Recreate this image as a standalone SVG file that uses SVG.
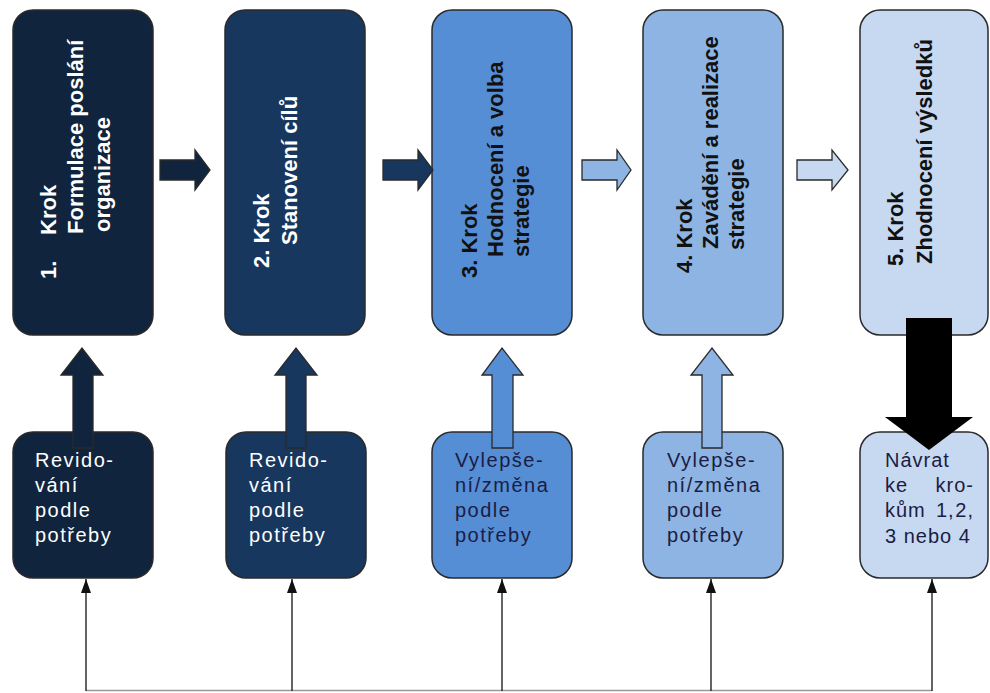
<svg xmlns="http://www.w3.org/2000/svg" width="990" height="693" viewBox="0 0 990 693">
  <style>
    .box { stroke: #2a2a2a; stroke-width: 1.5; }
    .blk { stroke: #2a2a2a; stroke-width: 1.3; stroke-linejoin: miter; }
    .vt { font-family: "Liberation Sans", Arial, sans-serif; font-weight: bold; font-size: 22px; }
    .bt { font-family: "Liberation Sans", Arial, sans-serif; font-size: 20px; letter-spacing: 1.5px; }
    .bt5 { font-family: "Liberation Sans", Arial, sans-serif; font-size: 20px; letter-spacing: 1px; }
    .wht { fill: #ffffff; }
    .drk { fill: #111111; }
    .nav { fill: #1c1c44; }
    .c1 { fill: #10243e; }
    .c2 { fill: #17375e; }
    .c3 { fill: #558ed5; }
    .c4 { fill: #8db4e2; }
    .c5 { fill: #c6d9f1; }
    .thin { stroke: #111; stroke-width: 1.3; fill: none; }
  </style>
  <defs>
    <marker id="tip" markerWidth="10" markerHeight="14" refX="5" refY="0" orient="0" markerUnits="userSpaceOnUse">
      <polygon points="0,14 5,0 10,14" fill="#111"/>
    </marker>
  </defs>

  <rect width="990" height="693" fill="#ffffff"/>

  <!-- step boxes -->
  <g id="step1">
    <rect class="box c1" x="13" y="10" width="140" height="325" rx="20"/>
    <text class="vt wht" transform="translate(56,279) rotate(-90)">1.</text>
    <text class="vt wht" transform="translate(56,235) rotate(-90)">Krok</text>
    <text class="vt wht" transform="translate(83,234) rotate(-90)">Formulace poslání</text>
    <text class="vt wht" transform="translate(110,232) rotate(-90)">organizace</text>
  </g>
  <g id="step2">
    <rect class="box c2" x="225" y="10" width="140" height="325" rx="20"/>
    <text class="vt wht" transform="translate(269,268) rotate(-90)">2. Krok</text>
    <text class="vt wht" transform="translate(297,245) rotate(-90)">Stanovení cílů</text>
  </g>
  <g id="step3">
    <rect class="box c3" x="432" y="10" width="140" height="325" rx="20"/>
    <text class="vt drk" transform="translate(477,278) rotate(-90)">3. Krok</text>
    <text class="vt drk" transform="translate(503,257) rotate(-90)">Hodnocení a volba</text>
    <text class="vt drk" transform="translate(529,257) rotate(-90)">strategie</text>
  </g>
  <g id="step4">
    <rect class="box c4" x="643" y="10" width="140" height="325" rx="20"/>
    <text class="vt drk" transform="translate(692,273) rotate(-90)">4. Krok</text>
    <text class="vt drk" transform="translate(718,249) rotate(-90)">Zavádění a realizace</text>
    <text class="vt drk" transform="translate(744,250) rotate(-90)">strategie</text>
  </g>
  <g id="step5">
    <rect class="box c5" x="860" y="10" width="128" height="325" rx="20"/>
    <text class="vt drk" transform="translate(903,266) rotate(-90)">5. Krok</text>
    <text class="vt drk" transform="translate(932,264) rotate(-90)">Zhodnocení výsledků</text>
  </g>

  <!-- review boxes -->
  <g id="review1">
    <rect class="box c1" x="13" y="432" width="140" height="146" rx="20"/>
    <text class="bt wht" x="35" y="467">Revido-</text>
    <text class="bt wht" x="35" y="492">vání</text>
    <text class="bt wht" x="35" y="517">podle</text>
    <text class="bt wht" x="35" y="542">potřeby</text>
  </g>
  <g id="review2">
    <rect class="box c2" x="226" y="432" width="140" height="146" rx="20"/>
    <text class="bt wht" x="249" y="467">Revido-</text>
    <text class="bt wht" x="249" y="492">vání</text>
    <text class="bt wht" x="249" y="517">podle</text>
    <text class="bt wht" x="249" y="542">potřeby</text>
  </g>
  <g id="review3">
    <rect class="box c3" x="432" y="432" width="140" height="146" rx="20"/>
    <text class="bt nav" x="455" y="467">Vylepše-</text>
    <text class="bt nav" x="455" y="492">ní/změna</text>
    <text class="bt nav" x="455" y="517">podle</text>
    <text class="bt nav" x="455" y="542">potřeby</text>
  </g>
  <g id="review4">
    <rect class="box c4" x="643" y="432" width="140" height="146" rx="20"/>
    <text class="bt nav" x="667" y="467">Vylepše-</text>
    <text class="bt nav" x="667" y="492">ní/změna</text>
    <text class="bt nav" x="667" y="517">podle</text>
    <text class="bt nav" x="667" y="542">potřeby</text>
  </g>
  <g id="review5">
    <rect class="box c5" x="860" y="432" width="128" height="146" rx="20"/>
    <!-- justified lines: words placed individually -->
    <text class="bt5 nav" x="885" y="467">Návrat</text>
    <text class="bt5 nav" x="885" y="492">ke</text>
    <text class="bt5 nav" x="974" y="492" text-anchor="end">kro-</text>
    <text class="bt5 nav" x="885" y="517">kům</text>
    <text class="bt5 nav" x="936" y="517">1,</text>
    <text class="bt5 nav" x="974" y="517" text-anchor="end">2,</text>
    <text class="bt5 nav" x="885" y="543">3 nebo 4</text>
  </g>

  <!-- connectors -->
  <g id="connectors">
    <!-- block arrows between steps -->
    <polygon class="blk c1" points="160,160 195,160 195,150 210,170 195,190 195,180 160,180"/>
    <polygon class="blk c2" points="383,160 418,160 418,150 433,170 418,190 418,180 383,180"/>
    <polygon class="blk c4" points="582,160 617,160 617,150 631,170 617,190 617,180 582,180"/>
    <polygon class="blk c5" points="797,160 832,160 832,150 848,170 832,190 832,180 797,180"/>

    <!-- block arrows from review boxes up to steps -->
    <polygon class="blk c1" points="73,448 73,375 61,375 82,348 103,375 93,375 93,448"/>
    <polygon class="blk c2" points="286,448 286,375 275,375 296,348 317,375 306,375 306,448"/>
    <polygon class="blk c3" points="492,448 492,375 482,375 502,348 523,375 513,375 513,448"/>
    <polygon class="blk c4" points="702,448 702,375 691,375 712,348 733,375 722,375 722,448"/>

    <!-- return arrow from step 5 -->
    <polygon fill="#000" points="906,318 952,318 952,417 973,417 929,450 885,417 906,417"/>

    <!-- feedback lines -->
    <line x1="86" y1="690.5" x2="932" y2="690.5" stroke="#999" stroke-width="1.3"/>
    <line class="thin" x1="86" y1="691" x2="86" y2="579" marker-end="url(#tip)"/>
    <line class="thin" x1="292" y1="691" x2="292" y2="579" marker-end="url(#tip)"/>
    <line class="thin" x1="502" y1="691" x2="502" y2="579" marker-end="url(#tip)"/>
    <line class="thin" x1="711" y1="691" x2="711" y2="579" marker-end="url(#tip)"/>
    <line class="thin" x1="932" y1="691" x2="932" y2="579" marker-end="url(#tip)"/>
  </g>
</svg>
